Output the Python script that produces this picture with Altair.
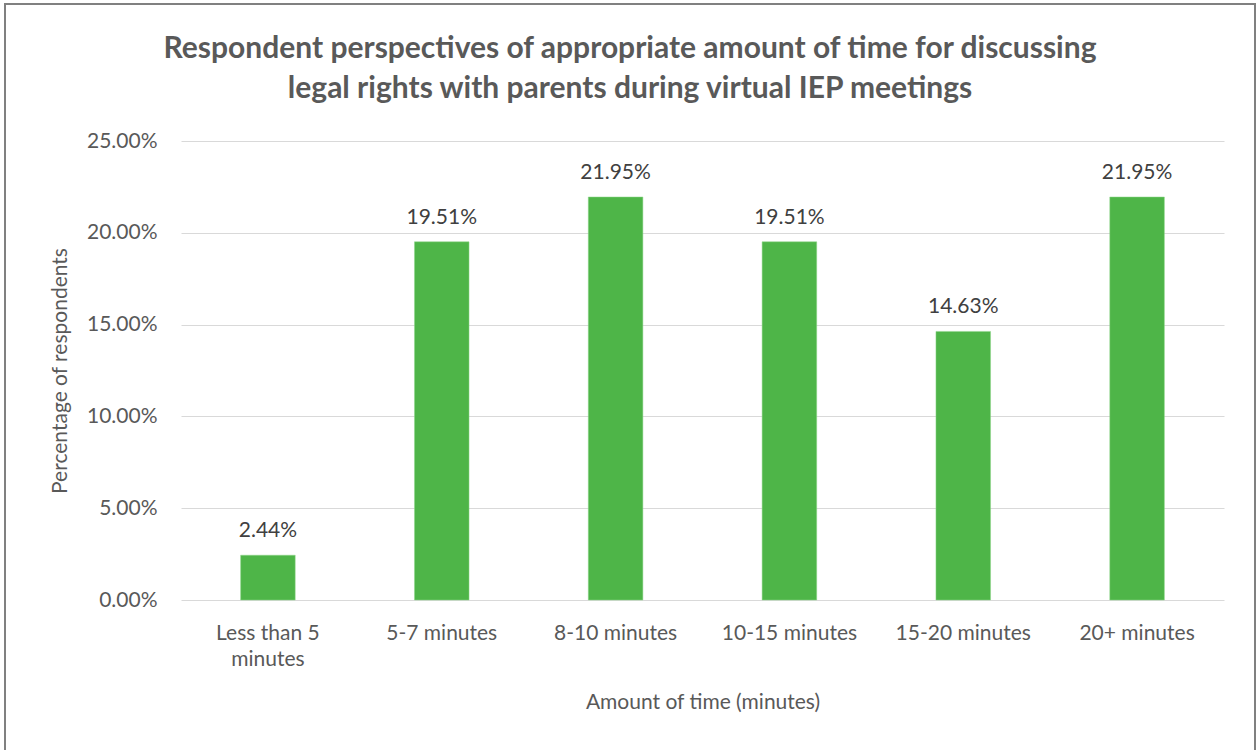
import altair as alt
import pandas as pd

categories = ["Less than 5 minutes", "5-7 minutes", "8-10 minutes",
              "10-15 minutes", "15-20 minutes", "20+ minutes"]
values = [0.0244, 0.1951, 0.2195, 0.1951, 0.1463, 0.2195]
y_ticks = [0, 0.05, 0.10, 0.15, 0.20, 0.25]
title_lines = ["Respondent perspectives of appropriate amount of time for discussing",
               "legal rights with parents during virtual IEP meetings"]

df = pd.DataFrame({"cat": categories, "val": values})

FONT = "Lato"
GRAY = "#595959"
GREEN = "#4EB548"

base = alt.Chart(df)

x_enc = alt.X(
    "cat:N", sort=categories,
    scale=alt.Scale(paddingInner=0.686, paddingOuter=0.343),
    axis=alt.Axis(
        title="Amount of time (minutes)", labelAngle=0, ticks=False,
        domain=False, labelPadding=22, titlePadding=22,
        labelExpr="datum.label == 'Less than 5 minutes' ? ['Less than 5', 'minutes'] : datum.label",
        labelLineHeight=26,
    ),
)
y_enc = alt.Y(
    "val:Q",
    scale=alt.Scale(domain=[0, 0.25], nice=False),
    axis=alt.Axis(
        title="Percentage of respondents", format=".2%", values=y_ticks,
        ticks=False, domain=False, labelPadding=24, titlePadding=16,
    ),
)

bars = base.mark_bar(color=GREEN, stroke="#8fd68a", strokeWidth=0.5).encode(x=x_enc, y=y_enc)
labels = base.mark_text(baseline="bottom", dy=-14, fontSize=21, font=FONT, color="#404040").encode(
    x=alt.X("cat:N", sort=categories), y="val:Q", text=alt.Text("val:Q", format=".2%")
)

one = pd.DataFrame({"a": [0]})
border = alt.Chart(one).mark_rect(
    fill=None, stroke="#808080", strokeWidth=2
).encode(
    x=alt.value(-176), x2=alt.value(1074), y=alt.value(-137), y2=alt.value(700)
)

title = alt.Chart(one).mark_text(
    text=title_lines, font=FONT, fontSize=30, fontWeight="bold", color=GRAY,
    align="center", baseline="alphabetic", lineHeight=40,
).encode(x=alt.value(449), y=alt.value(-83))

chart = alt.layer(bars, labels, border, title).properties(
    width=1043, height=459,
    background="white",
    autosize=alt.AutoSizeParams(type="none"),
    padding={"left": 181, "top": 141, "right": 35, "bottom": 150},
).configure_axis(
    labelFont=FONT, titleFont=FONT, labelFontSize=21, titleFontSize=21,
    labelColor=GRAY, titleColor=GRAY, titleFontWeight="normal",
    gridColor="#D9D9D9", gridWidth=1.2,
).configure_view(stroke=None)

chart.save("out.html", embed_options={"renderer": "svg", "actions": False})
